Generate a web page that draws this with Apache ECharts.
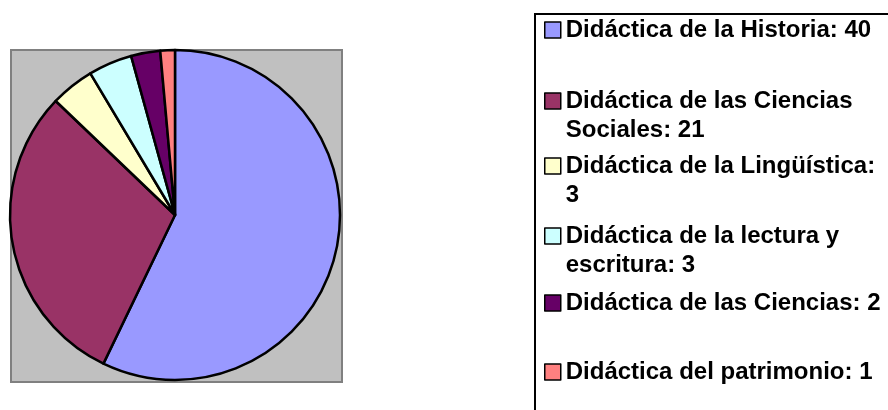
<!DOCTYPE html>
<html>
<head>
<meta charset="utf-8">
<script src="https://cdn.jsdelivr.net/npm/echarts@6/dist/echarts.min.js"></script>
<style>html,body{margin:0;padding:0;background:#fff}#c{width:888px;height:410px}</style>
</head>
<body>
<div id="c"></div>
<script>
const categories = ['Didáctica de la Historia','Didáctica de las Ciencias Sociales','Didáctica de la Lingüística','Didáctica de la lectura y escritura','Didáctica de las Ciencias','Didáctica del patrimonio'];
const values = [40, 21, 3, 3, 2, 1];
const colors = ['#9999FF','#993366','#FFFFCC','#CCFFFF','#660066','#FF8080'];
const breakAfterWords = [0, 4, 4, 5, 0, 0];
const legendCenters = [30, 101, 166, 236, 303, 372];

const LH = 29;
function wrapLabel(i) {
  const words = (categories[i] + ': ' + values[i]).split(' ');
  const n = breakAfterWords[i];
  if (!n) return words.join(' ');
  // leading blank line keeps the marker level with the first text line
  return '\n' + words.slice(0, n).join(' ') + '\n' + words.slice(n).join(' ');
}

const chart = echarts.init(document.getElementById('c'), null, {renderer: 'canvas'});
const legends = categories.map((name, i) => ({
  orient: 'vertical',
  left: 544,
  top: legendCenters[i] - (breakAfterWords[i] ? 1.5 * LH : 0.5 * LH),
  padding: 0,
  itemWidth: 16,
  itemHeight: 16,
  icon: 'rect',
  selectedMode: false,
  data: [{name: name, itemStyle: {borderColor: '#000', borderWidth: 1.5}}],
  formatter: () => wrapLabel(i),
  textStyle: {
    fontFamily: 'Liberation Sans, Arial, sans-serif',
    fontWeight: 'bold',
    fontSize: 24,
    color: '#000',
    lineHeight: LH
  }
}));

chart.setOption({
  animation: false,
  color: colors,
  graphic: [
    {type: 'rect', left: 10, top: 49, silent: true, z: -10,
     shape: {width: 331, height: 332}, style: {fill: '#C0C0C0', stroke: '#808080', lineWidth: 2}},
    {type: 'rect', left: 534, top: 13, silent: true, z: -10,
     shape: {width: 400, height: 420}, style: {fill: '#FFFFFF', stroke: '#000000', lineWidth: 2}}
  ],
  legend: legends,
  series: [{
    type: 'pie',
    center: [175, 215],
    radius: 165,
    startAngle: 90,
    clockwise: true,
    silent: true,
    label: {show: false},
    labelLine: {show: false},
    itemStyle: {borderColor: '#000', borderWidth: 2.5},
    data: categories.map((n, i) => ({name: n, value: values[i]}))
  }]
});
</script>
</body>
</html>
